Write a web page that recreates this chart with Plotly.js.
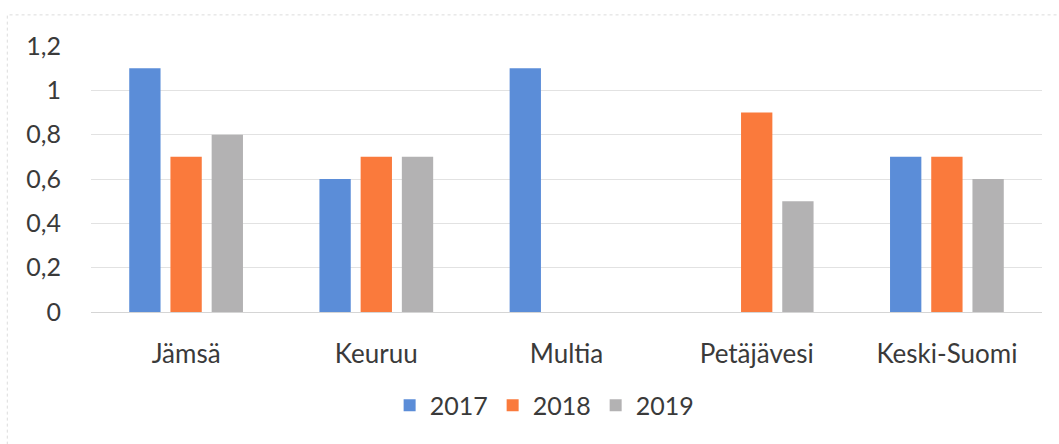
<!DOCTYPE html>
<html>
<head>
<meta charset="utf-8">
<script src="https://cdn.plot.ly/plotly-3.0.1.min.js"></script>
<style>html,body{margin:0;padding:0;background:#fff;}#chart{width:1059px;height:444px;}</style>
</head>
<body>
<div id="chart"></div>
<script>
const categories = ['Jämsä', 'Keuruu', 'Multia', 'Petäjävesi', 'Keski-Suomi'];
const seriesNames = ['2017', '2018', '2019'];
const values2017 = [1.1, 0.6, 1.1, null, 0.7];
const values2018 = [0.7, 0.7, null, 0.9, 0.7];
const values2019 = [0.8, 0.7, null, 0.5, 0.6];
const colors = ['#5b8dd8', '#fa7a3c', '#b3b2b3'];
const yTicks = [0, 0.2, 0.4, 0.6, 0.8, 1, 1.2];
const yTickText = ['0', '0,2', '0,4', '0,6', '0,8', '1', '1,2'];

const allValues = [values2017, values2018, values2019];
const traces = allValues.map((v, i) => ({
  type: 'bar', x: categories, y: v, name: seriesNames[i],
  marker: {color: colors[i]}, hoverinfo: 'x+y'
}));

const layout = {
  width: 1059, height: 444,
  margin: {l: 91, r: 17, t: 46, b: 132},
  paper_bgcolor: '#fff', plot_bgcolor: '#fff',
  font: {family: 'Lato, "Open Sans", sans-serif', size: 25, color: '#3a3a3a'},
  barmode: 'group', bargap: 0.35, bargroupgap: 0.24,
  xaxis: {showgrid: false, showline: false, zeroline: false, ticks: '', tickfont: {size: 26, color: '#3a3a3a'}, ticklabelstandoff: 24},
  yaxis: {range: [0, 1.2], tickvals: yTicks, ticktext: yTickText, showgrid: true, gridcolor: '#e2e2e2', gridwidth: 1,
          zeroline: true, zerolinecolor: '#d5d5d5', zerolinewidth: 1, showline: false, ticks: '',
          tickfont: {size: 25, color: '#3a3a3a'}, ticklabelstandoff: 29},
  showlegend: true,
  legend: {orientation: 'h', x: 0.477, xanchor: 'center', y: -0.265, yanchor: 'top', font: {size: 25, color: '#3a3a3a'}, traceorder: 'normal', itemwidth: 30},
  shapes: [{type: 'rect', xref: 'paper', yref: 'paper', x0: -0.088, x1: 1.05, y0: -0.51, y1: 1.117,
            line: {color: '#dcdcdc', width: 1, dash: 'dot'}, fillcolor: 'rgba(0,0,0,0)', layer: 'below'}]
};
Plotly.newPlot('chart', traces, layout, {displayModeBar: false, staticPlot: true});
</script>
</body>
</html>
